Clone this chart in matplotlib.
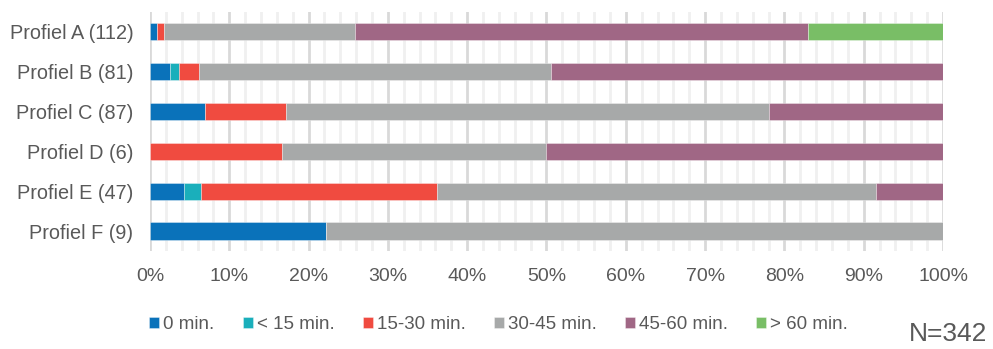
import numpy as np
import matplotlib.pyplot as plt
from matplotlib.ticker import MultipleLocator, PercentFormatter

plt.rcParams['font.family'] = ['Liberation Sans', 'DejaVu Sans']

profiles = ["Profiel A (112)", "Profiel B (81)", "Profiel C (87)",
            "Profiel D (6)", "Profiel E (47)", "Profiel F (9)"]
categories = ["0 min.", "< 15 min.", "15-30 min.", "30-45 min.", "45-60 min.", "> 60 min."]

# share per profile (%)
zero_min = [0.9, 2.5, 6.9, 0.0, 4.3, 22.2]
lt_15 = [0.0, 1.2, 0.0, 0.0, 2.1, 0.0]
m15_30 = [0.9, 2.5, 10.3, 16.7, 29.8, 0.0]
m30_45 = [24.1, 44.4, 60.9, 33.3, 55.3, 77.8]
m45_60 = [57.1, 49.4, 21.9, 50.0, 8.5, 0.0]
gt_60 = [17.0, 0.0, 0.0, 0.0, 0.0, 0.0]

series = [zero_min, lt_15, m15_30, m30_45, m45_60, gt_60]
colors = ["#0A72BA", "#1AAFBB", "#F04B40", "#A7A9A9", "#A06785", "#79BE66"]
text_color = "#595959"

fig = plt.figure(figsize=(9.93, 3.49), dpi=100)
ax = fig.add_axes([0.151, 0.281, 0.7987, 0.685])

y = np.arange(len(profiles))
left = np.zeros(len(profiles))
for vals, col, lab in zip(series, colors, categories):
    ax.barh(y, vals, left=left, height=0.43, color=col, label=lab,
            edgecolor=(1, 1, 1, 0.4), linewidth=0.6, zorder=3)
    left += np.array(vals)

ax.set_xlim(0, 100)
ax.set_ylim(5.5, -0.5)
ax.set_yticks(y)
ax.set_yticklabels(profiles, fontsize=14.3, color=text_color)
ax.xaxis.set_major_locator(MultipleLocator(10))
ax.xaxis.set_minor_locator(MultipleLocator(2))
ax.xaxis.set_major_formatter(PercentFormatter(decimals=0))
ax.tick_params(axis='x', labelsize=14, colors=text_color, length=0, pad=12)
ax.tick_params(axis='x', which='minor', length=0)
ax.tick_params(axis='y', length=0, pad=12)
ax.grid(axis='x', which='major', color="#D9D9D9", linewidth=2, zorder=0)
ax.grid(axis='x', which='minor', color="#F0F0F0", linewidth=2, zorder=0)
ax.set_axisbelow(True)
for s in ax.spines.values():
    s.set_visible(False)

fig.legend(loc='center', bbox_to_anchor=(0.502, 0.069), ncol=6, frameon=False,
           fontsize=13.5, handlelength=0.55, handleheight=0.55, handletextpad=0.2,
           columnspacing=1.5, labelcolor=text_color)
fig.text(0.994, 0.008, "N=342", ha='right', va='bottom', fontsize=19, color=text_color)

fig.savefig("out.png", dpi=100)
